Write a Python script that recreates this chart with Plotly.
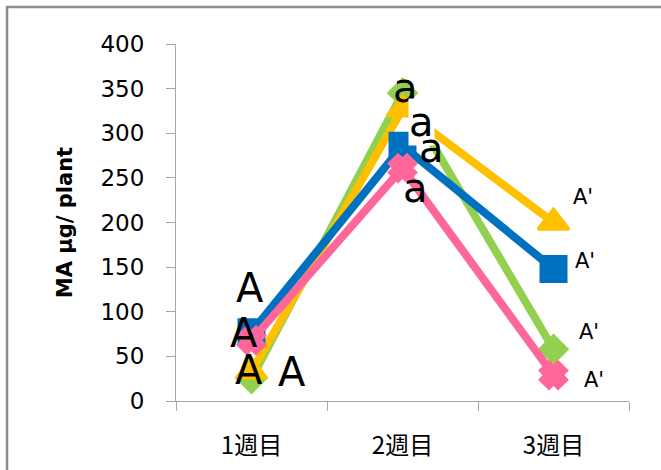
import plotly.graph_objects as go

# MA content per plant over three weeks, four treatments
weeks = ["1週目", "2週目", "3週目"]
series_blue = [77, 286, 148]
series_yellow = [33, 327, 200]
series_green = [25, 345, 58]
series_pink = [68, 261, 29]

# significance letters for each week
letters_week1 = ["A", "A", "A", "A"]
letters_week2 = ["a", "a", "a", "a"]
letters_week3 = ["A'", "A'", "A'", "A'"]

y_ticks = [0, 50, 100, 150, 200, 250, 300, 350, 400]

fig = go.Figure()

line_w = 8
traces = [
    (series_green, "#92D050", "diamond", 21, 3),
    (series_yellow, "#FFC000", "triangle-up", 27, 3),
    (series_blue, "#0070C0", "square", 25, 3),
    (series_pink, "#FF6699", "x", 16, 9),
]
for vals, color, sym, size, lw in traces:
    fig.add_trace(go.Scatter(
        x=weeks, y=vals, mode="lines+markers",
        line=dict(color=color, width=line_w),
        marker=dict(symbol=sym, size=size, color=color,
                    line=dict(color=color, width=lw)),
        showlegend=False, cliponaxis=False,
    ))

# label placement: (category offset, y) for each letter
pos_w1 = [(-0.01, 127), (-0.05, 76), (-0.017, 35), (0.268, 33)]
pos_w2 = [(1.017, 351), (1.129, 313), (1.195, 284), (1.083, 239)]
pos_w3 = [(2.195, 229), (2.208, 157), (2.234, 77), (2.267, 24)]

annotations = []
for texts, poss, fsize in [(letters_week1, pos_w1, 40),
                           (letters_week2, pos_w2, 40),
                           (letters_week3, pos_w3, 21)]:
    for i, (t, (px, py)) in enumerate(zip(texts, poss)):
        annotations.append(dict(
            x=px, y=py, xref="x", yref="y", text=t, showarrow=False,
            xanchor="center", yanchor="middle",
            font=dict(family="DejaVu Sans", size=fsize, color="black"),
            bgcolor="white" if (texts is letters_week2 and i == 1) else "rgba(0,0,0,0)",
            borderpad=0,
        ))

fig.update_layout(
    width=661, height=470,
    margin=dict(l=176, r=32, t=44, b=69),
    paper_bgcolor="white", plot_bgcolor="white",
    annotations=annotations,
    shapes=[dict(type="rect", xref="paper", yref="paper",
                 x0=-0.373, x1=1.3, y0=-0.4, y1=1.1036,
                 line=dict(color="#8C8C8C", width=2.5), layer="below")],
    font=dict(family="DejaVu Sans", color="black"),
)

fig.update_xaxes(
    type="category", range=[-0.5, 2.5], automargin=False,
    showgrid=False, zeroline=False,
    showline=True, linecolor="#A6A6A6", linewidth=1,
    ticks="outside", ticklen=9, tickcolor="#A6A6A6", tickson="boundaries",
    tickfont=dict(family="Noto Sans CJK JP", size=24, color="black"),
    ticklabelstandoff=23,
)
fig.update_yaxes(
    range=[0, 400], tickvals=y_ticks, automargin=False,
    showgrid=False, zeroline=False,
    showline=True, linecolor="#A6A6A6", linewidth=1,
    ticks="outside", ticklen=9, tickcolor="#A6A6A6",
    tickfont=dict(family="DejaVu Sans", size=23, color="black"),
    ticklabelstandoff=17,
    title=dict(text="<b>MA µg/ plant</b>",
               font=dict(family="DejaVu Sans", size=21, color="black"),
               standoff=22),
)

fig.write_html("out.html")
